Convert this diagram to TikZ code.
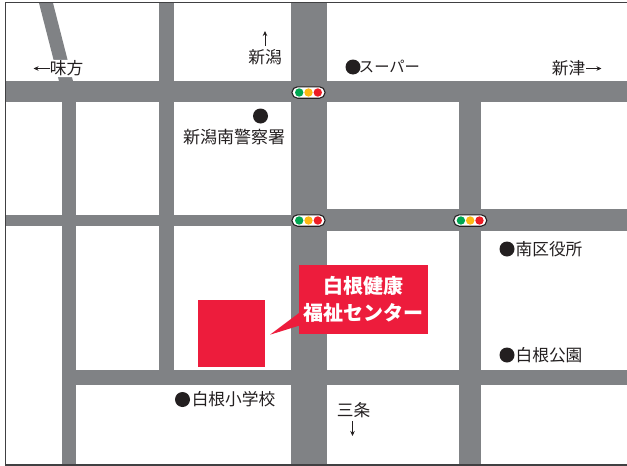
\documentclass[tikz,border=0pt]{standalone}
\usepackage{fontspec}
\setmainfont{Noto Sans CJK JP}
\usetikzlibrary{arrows.meta}
\definecolor{road}{HTML}{808285}
\definecolor{frameline}{HTML}{404042}
\definecolor{sigred}{HTML}{ED1C24}
\definecolor{sigyel}{HTML}{FDB913}
\definecolor{siggrn}{HTML}{00A651}
\definecolor{labred}{HTML}{ED1C3C}
\definecolor{ink}{HTML}{231F20}
\tikzset{
  x=1pt,y=-1pt,
  roadway/.style={fill=road,draw=none},
  lbl/.style={font=\fontsize{16.7}{18}\selectfont,text=ink,inner sep=0pt,anchor=center},
  dot/.style={circle,fill=ink,draw=none,minimum size=15pt,inner sep=0pt},
  dirarrow/.style={draw=ink,line width=0.8pt,-{Stealth[length=5pt,width=4.5pt]}},
  capsule/.style={draw=ink,fill=white,line width=1.1pt,rounded corners=5.5pt},
  lamp/.style={circle,draw=none,minimum size=8.4pt,inner sep=0pt},
}
\newcommand{\signal}[2]{%
  \draw[capsule] (#1-16.5,#2-5.7) rectangle (#1+16.5,#2+5.7);
  \node[lamp,fill=siggrn] at (#1-9.3,#2) {};
  \node[lamp,fill=sigyel] at (#1,#2) {};
  \node[lamp,fill=sigred] at (#1+9.3,#2) {};
}
\begin{document}
\begin{tikzpicture}
\useasboundingbox (0,0) rectangle (627,466);
\fill[white] (0,0) rectangle (627,466);
% roads
\fill[roadway] (39,3) -- (53,3) -- (73,81) -- (76,90) -- (62,90) -- (59,81) -- cycle;
\fill[roadway] (6,81) rectangle (627,102);
\fill[roadway] (6,215) rectangle (300,225.5);
\fill[roadway] (300,209) rectangle (627,231);
\fill[roadway] (62,370) rectangle (627,384.5);
\fill[roadway] (62,81) rectangle (76,465);
\fill[roadway] (159,3) rectangle (173.5,384);
\fill[roadway] (291,3) rectangle (327,465);
\fill[roadway] (459.3,81) rectangle (481,465);
% frame
\draw[frameline,line width=1.5pt] (627,2.6) -- (5.5,2.6) -- (5.5,465.2) -- (627,465.2);
% signals
\signal{308.5}{92.5}
\signal{308.5}{220.5}
\signal{470.2}{220.5}
% site
\fill[labred] (198,300) rectangle (265,367);
\fill[labred] (270,334.7) -- (299,313) -- (299,325.7) -- cycle;
\node[fill=labred,minimum width=129pt,minimum height=69pt,inner sep=0pt,anchor=center,text=white,align=center,font=\fontsize{20}{27}\selectfont\bfseries] (center) at (363.5,299.5) {白根健康\\[-0.5pt]福祉センター};
% labels
\node[lbl] (niigata) at (265,57) {新潟};
\coordinate (niigataTip) at (265,31);
\draw[dirarrow] (265,46) -- (niigataTip);
\node[lbl,fill=white,inner sep=1pt,rounded corners=3pt] (ajikata) at (66.5,68.5) {味方};
\coordinate (ajikataTip) at (33.5,68.5);
\draw[dirarrow] (50,68.5) -- (ajikataTip);
\node[dot] (superdot) at (353,67) {};
\node[lbl,font=\fontsize{15.3}{18}\selectfont] (super) at (389.5,67) {スーパー};
\node[lbl] (niitsu) at (568.5,68.5) {新津};
\coordinate (niitsuTip) at (601.5,68.5);
\draw[dirarrow] (586,68.5) -- (niitsuTip);
\node[dot] (policedot) at (260.5,116) {};
\node[lbl,font=\fontsize{17}{18}\selectfont] (police) at (234,137) {新潟南警察署};
\node[dot] (warddot) at (507,249) {};
\node[lbl] (ward) at (549,249) {南区役所};
\node[dot] (parkdot) at (507,355) {};
\node[lbl] (park) at (549,355) {白根公園};
\node[dot] (schooldot) at (182.5,399.5) {};
\node[lbl] (school) at (233.5,399.5) {白根小学校};
\node[lbl] (sanjo) at (353.5,410) {三条};
\coordinate (sanjoTip) at (352.5,436);
\draw[dirarrow] (352.5,421) -- (sanjoTip);
\end{tikzpicture}
\end{document}
